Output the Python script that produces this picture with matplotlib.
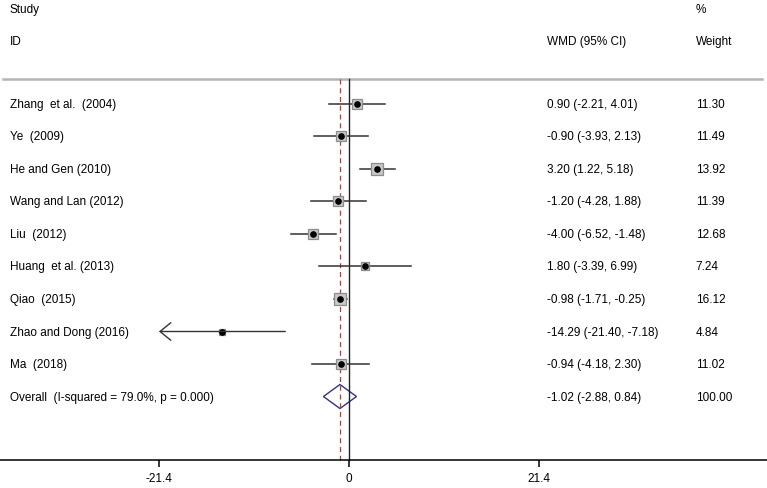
import matplotlib.pyplot as plt
import numpy as np

# study data
studies = ["Zhang  et al.  (2004)", "Ye  (2009)", "He and Gen (2010)", "Wang and Lan (2012)",
           "Liu  (2012)", "Huang  et al. (2013)", "Qiao  (2015)", "Zhao and Dong (2016)", "Ma  (2018)"]
wmd = [0.90, -0.90, 3.20, -1.20, -4.00, 1.80, -0.98, -14.29, -0.94]
ci_low = [-2.21, -3.93, 1.22, -4.28, -6.52, -3.39, -1.71, -21.40, -4.18]
ci_high = [4.01, 2.13, 5.18, 1.88, -1.48, 6.99, -0.25, -7.18, 2.30]
weights = [11.30, 11.49, 13.92, 11.39, 12.68, 7.24, 16.12, 4.84, 11.02]

overall_label = "Overall  (I-squared = 79.0%, p = 0.000)"
overall = -1.02
overall_low = -2.88
overall_high = 0.84
overall_weight = 100.00

xticks = [-21.4, 0, 21.4]

plt.rcParams['font.family'] = ['Liberation Sans', 'DejaVu Sans']
fs = 8.5
tc = "#000000"

fig = plt.figure(figsize=(7.67, 4.89), dpi=100)
ax = fig.add_axes([0, 0, 1, 1])
# x in WMD units, y in row units (row 0 = first study)
ax.set_xlim(-39.3, 47.07)
ax.set_ylim(11.815, -3.23)

n = len(studies)
rows = np.arange(n)
top = -0.77      # grey separator line
base = 10.95     # x axis line

# header texts
trans = ax.get_yaxis_transform()
ax.text(0.013, -2.92, "Study", transform=trans, fontsize=fs, color=tc, va="center")
ax.text(0.013, -1.94, "ID", transform=trans, fontsize=fs, color=tc, va="center")
ax.text(0.713, -1.94, "WMD (95% CI)", transform=trans, fontsize=fs, color=tc, va="center")
ax.text(0.907, -2.92, "%", transform=trans, fontsize=fs, color=tc, va="center")
ax.text(0.907, -1.94, "Weight", transform=trans, fontsize=fs, color=tc, va="center")
ax.plot([0.004, 0.993], [top, top], transform=trans, color="#b4b4b4", lw=1.8)

# reference lines
ax.plot([0, 0], [top, base], color="#222222", lw=1.0)
ax.plot([overall, overall], [top, base], color="#9a4848", lw=0.9, dashes=(4, 3))

# studies
for i in rows:
    y = i
    if ci_low[i] <= min(xticks):
        # CI runs past the axis: open arrow head
        ax.annotate("", xy=(ci_low[i], y), xytext=(ci_high[i], y),
                    arrowprops=dict(arrowstyle="->,head_length=0.55,head_width=0.45",
                                    color="#333333", lw=1.0, shrinkA=0, shrinkB=0,
                                    mutation_scale=14))
    else:
        ax.plot([ci_low[i], ci_high[i]], [y, y], color="#333333", lw=1.1)
    ms = 7.2 * np.sqrt(weights[i] / 11.3)
    ax.plot(wmd[i], y, marker="s", ms=ms, mfc="#c8c8c8", mec="#8c8c8c", mew=0.9)
    ax.plot(wmd[i], y, marker="o", ms=3.8, color="black")
    ax.text(0.013, y, studies[i], transform=trans, fontsize=fs, color=tc, va="center")
    ax.text(0.713, y, "%.2f (%.2f, %.2f)" % (wmd[i], ci_low[i], ci_high[i]),
            transform=trans, fontsize=fs, color=tc, va="center")
    ax.text(0.907, y, "%.2f" % weights[i], transform=trans, fontsize=fs, color=tc, va="center")

# overall diamond
yo = n
h = 0.37
ax.fill([overall_low, overall, overall_high, overall, overall_low],
        [yo, yo - h, yo, yo + h, yo], facecolor="none", edgecolor="#33338a", lw=1.0)
ax.text(0.013, yo, overall_label, transform=trans, fontsize=fs, color=tc, va="center")
ax.text(0.713, yo, "%.2f (%.2f, %.2f)" % (overall, overall_low, overall_high),
        transform=trans, fontsize=fs, color=tc, va="center")
ax.text(0.907, yo, "%.2f" % overall_weight, transform=trans, fontsize=fs, color=tc, va="center")

# bottom axis
for s in ["top", "left", "right"]:
    ax.spines[s].set_visible(False)
ax.spines["bottom"].set_position(("data", base))
ax.spines["bottom"].set_linewidth(1.1)
ax.set_xticks(xticks)
ax.set_xticklabels(["%g" % t for t in xticks])
ax.tick_params(axis="x", direction="out", length=5, width=1.1, pad=3.5,
               labelsize=fs, labelcolor=tc)
ax.set_yticks([])
ax.patch.set_visible(False)

plt.savefig("out.png", dpi=100)
